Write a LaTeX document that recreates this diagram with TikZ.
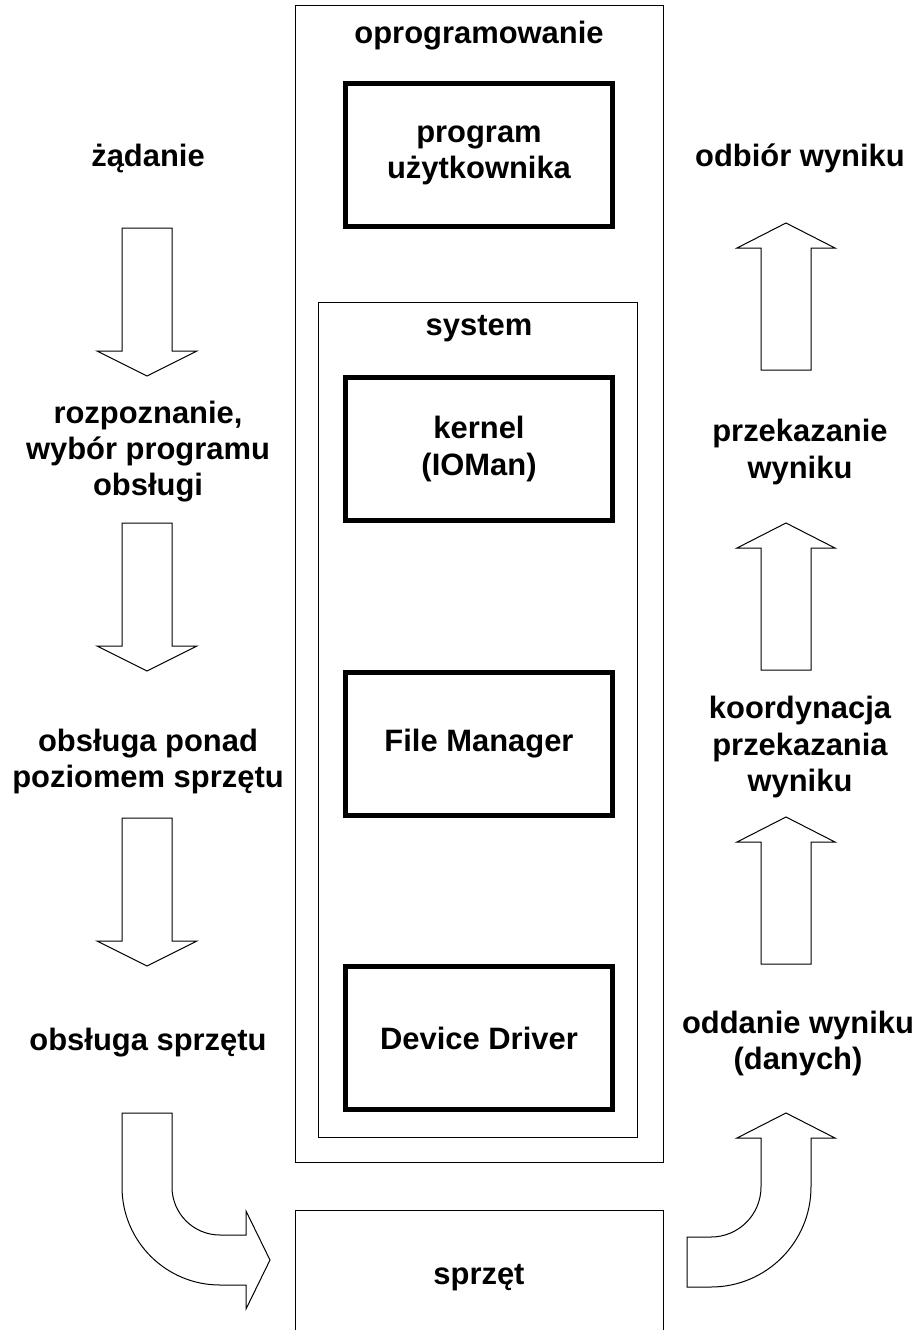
\documentclass[tikz,border=0pt]{standalone}
\usepackage{fontspec}
\setmainfont{Liberation Sans}
\usepackage{tikz}
\usetikzlibrary{calc}
\def\blkdown(#1,#2){\draw[blk] (#1-25,#2) -- (#1+25,#2) -- (#1+25,#2+123) -- (#1+50,#2+123) -- (#1,#2+148) -- (#1-50,#2+123) -- (#1-25,#2+123) -- cycle;}
\def\blkup(#1,#2){\draw[blk] (#1,#2) -- (#1+49,#2+25) -- (#1+25,#2+25) -- (#1+25,#2+147) -- (#1-25,#2+147) -- (#1-25,#2+25) -- (#1-49,#2+25) -- cycle;}
\tikzset{
  lbl/.style={align=center, font=\fontsize{17.6}{20.5}\selectfont\bfseries, inner sep=0pt, yshift=-0.06cm},
  thickbox/.style={draw, line width=0.085cm, minimum width=5.34cm, minimum height=2.86cm, lbl, yshift=0.06cm},
  thinbox/.style={line width=0.02cm},
  blk/.style={line width=0.02cm, fill=white, line join=miter}
}
\begin{document}
\begin{tikzpicture}[x=0.02cm, y=-0.02cm]
			%%%%% START %%%%%
			\useasboundingbox (0,0) rectangle (920,1330);
			
			% oprogramowanie
			\draw[thinbox] (295,5) rectangle (663,1162);
			\node[lbl] (oprog) at (479,33) {oprogramowanie};
			\node[thickbox] (prog) at (479,155) {program\\użytkownika};
			
			% system
			\draw[thinbox] (318,302) rectangle (637,1137);
			\node[lbl] (sys) at (479,326) {system};
			\node[thickbox] (kernel) at (479,449) {kernel\\(IOMan)};
			\node[thickbox] (fileman) at (479,744) {File Manager};
			\node[thickbox] (devdrv) at (479,1038) {Device Driver};
			
			% sprzet
			\draw[thinbox] (295,1335) -- (295,1210) -- (663,1210) -- (663,1335);
			\node[lbl] (hw) at (479,1275) {sprzęt};
			
			% lewa kolumna
			\node[lbl] (req) at (148,155) {żądanie};
			\node[lbl] (recog) at (148,449) {rozpoznanie,\\wybór programu\\obsługi};
			\node[lbl] (above) at (148,758) {obsługa ponad\\poziomem sprzętu};
			\node[lbl] (hwserv) at (148,1040) {obsługa sprzętu};
			
			\blkdown(147,228)
			\blkdown(147,523)
			\blkdown(147,818)
			
			\draw[blk] (122,1113) -- (172,1113) -- (172,1187) .. controls (172,1213.5) and (193.5,1235) .. (220,1235) -- (246,1235) -- (246,1211) -- (270,1260) -- (246,1309) -- (246,1285) -- (220,1285) .. controls (165.9,1285) and (122,1241.1) .. (122,1187) -- cycle;
			
			% prawa kolumna
			\node[lbl] (recv) at (800,155) {odbiór wyniku};
			\node[lbl] (pass) at (800,449) {przekazanie\\wyniku};
			\node[lbl] (coord) at (800,744) {koordynacja\\przekazania\\wyniku};
			\node[lbl] (give) at (798,1040) {oddanie wyniku\\(danych)};
			
			\blkup(786,223)
			\blkup(786,523)
			\blkup(786,817)
			
			\draw[blk] (687,1237) -- (711,1237) .. controls (738.6,1237) and (761,1214.6) .. (761,1187) -- (761,1138) -- (737,1138) -- (786,1113) -- (835,1138) -- (811,1138) -- (811,1187) .. controls (811,1242.2) and (766.2,1287) .. (711,1287) -- (687,1287) -- cycle;
			
			%%%%% END %%%%%
\end{tikzpicture}
\end{document}
